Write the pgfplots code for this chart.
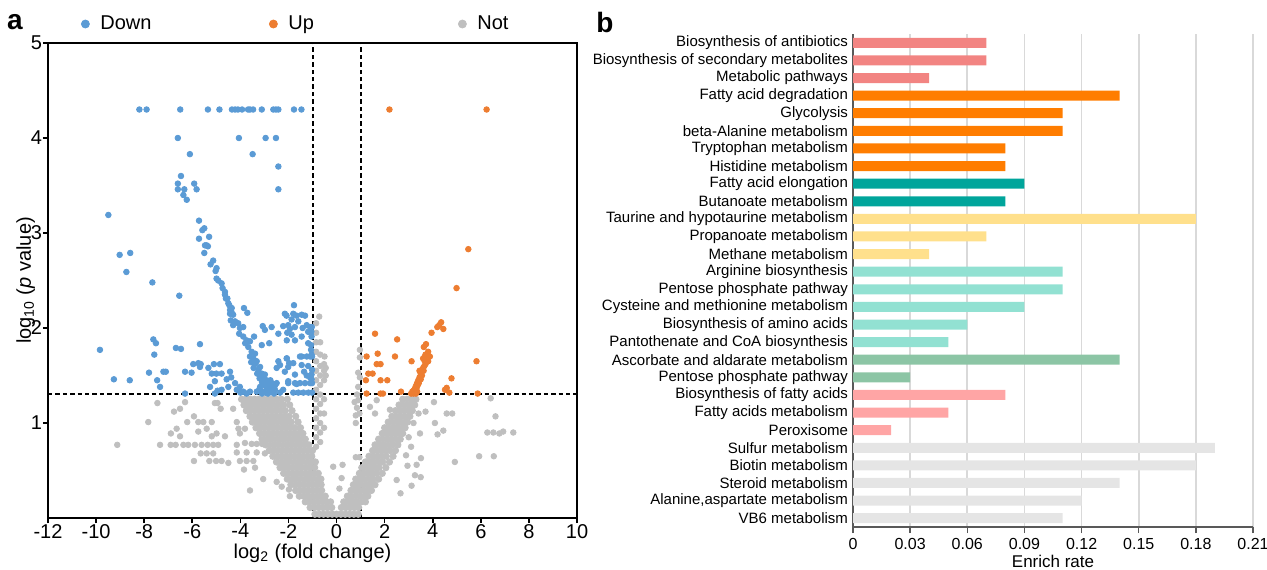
\documentclass[border=0pt]{standalone}
\usepackage{fontspec}
\setmainfont{Liberation Sans}
\usepackage{pgfplots}
\pgfplotsset{compat=1.18}

\definecolor{cdown}{HTML}{5B9BD5}
\definecolor{cup}{HTML}{ED7D31}
\definecolor{cnot}{HTML}{BFBFBF}
\definecolor{gA}{HTML}{F28482}
\definecolor{gB}{HTML}{FF7D00}
\definecolor{gC}{HTML}{00A59B}
\definecolor{gD}{HTML}{FFE08C}
\definecolor{gE}{HTML}{92E1D2}
\definecolor{gF}{HTML}{8CC5A5}
\definecolor{gG}{HTML}{FFA5A5}
\definecolor{gH}{HTML}{E5E5E5}
\definecolor{axgray}{HTML}{595959}

\begin{document}
\begin{tikzpicture}

% ---------- a: volcano plot ----------
\begin{axis}[
  at={(0,0)}, anchor=south west, scale only axis,
  width=264.5pt, height=237.5pt,
  xmin=-12, xmax=10, ymin=0, ymax=5,
  xtick={-12,-10,...,10}, ytick={1,2,3,4,5},
  tick pos=left, tick align=outside, major tick length=2.5pt,
  axis line style={line width=0.9pt},
  every tick/.style={line width=0.8pt, black},
  ticklabel style={font=\fontsize{10}{12}\selectfont},
  xticklabel style={yshift=3pt},
  yticklabel style={xshift=3pt},
  /pgf/number format/assume math mode=true,
  xlabel={log\textsubscript{2} (fold change)},
  ylabel={log\textsubscript{10} (\textit{p} value)},
  label style={font=\fontsize{10}{12}\selectfont},
  xlabel style={yshift=4pt},
  ylabel style={yshift=-9pt},
  legend columns=3,
  legend image code/.code={\draw[#1,mark size=2pt] plot coordinates {(0pt,0pt)};},
  legend style={at={(axis description cs:0.0624,1.04)}, anchor=west,
    draw=none, fill=none, inner sep=0pt,
    font=\fontsize{10}{12}\selectfont,
    /tikz/every odd column/.append style={column sep=3.5pt},
    /tikz/every even column/.append style={column sep=0pt}},
]
% grey (not significant): dense V band
\addplot[only marks, mark=*, mark size=1.6pt, color=cnot, forget plot] coordinates {
(-0.9,0.04)(-0.72,0.04)(-0.54,0.04)(-0.36,0.04)(-0.18,0.04)(0,0.04)(0.18,0.04)(0.36,0.04)(0.54,0.04)(0.72,0.04)(0.9,0.04)
(-1.1,0.11)(-0.92,0.11)(-0.74,0.11)(-0.56,0.11)(-0.38,0.11)(-0.2,0.11)(0.2,0.11)(0.38,0.11)(0.56,0.11)(0.74,0.11)(0.92,0.11)
(-1.3,0.17)(-1.12,0.17)(-0.94,0.17)(-0.76,0.17)(-0.58,0.17)(-0.4,0.17)(-0.25,0.17)(0.3,0.17)(0.48,0.17)(0.66,0.17)(0.84,0.17)(1.02,0.17)(1.2,0.17)
(-1.55,0.23)(-1.37,0.23)(-1.19,0.23)(-1.01,0.23)(-0.83,0.23)(-0.65,0.23)(-0.47,0.23)(0.45,0.23)(0.63,0.23)(0.81,0.23)(0.99,0.23)(1.17,0.23)(1.3,0.23)
(-1.7,0.29)(-1.52,0.29)(-1.34,0.29)(-1.16,0.29)(-0.98,0.29)(-0.8,0.29)(-0.62,0.29)(0.6,0.29)(0.78,0.29)(0.96,0.29)(1.14,0.29)(1.32,0.29)(1.45,0.29)
(-1.9,0.35)(-1.72,0.35)(-1.54,0.35)(-1.36,0.35)(-1.18,0.35)(-1.0,0.35)(-0.82,0.35)(-0.64,0.35)(0.7,0.35)(0.88,0.35)(1.06,0.35)(1.24,0.35)(1.42,0.35)(1.6,0.35)
(-2.05,0.41)(-1.87,0.41)(-1.69,0.41)(-1.51,0.41)(-1.33,0.41)(-1.15,0.41)(-0.97,0.41)(-0.79,0.41)(-0.65,0.41)(0.8,0.41)(0.98,0.41)(1.16,0.41)(1.34,0.41)(1.52,0.41)(1.75,0.41)
(-2.2,0.47)(-2.02,0.47)(-1.84,0.47)(-1.66,0.47)(-1.48,0.47)(-1.3,0.47)(-1.12,0.47)(-0.94,0.47)(-0.76,0.47)(0.95,0.47)(1.13,0.47)(1.31,0.47)(1.49,0.47)(1.67,0.47)(1.9,0.47)
(-2.35,0.53)(-2.17,0.53)(-1.99,0.53)(-1.81,0.53)(-1.63,0.53)(-1.45,0.53)(-1.27,0.53)(-1.09,0.53)(-0.91,0.53)(1.05,0.53)(1.23,0.53)(1.41,0.53)(1.59,0.53)(1.77,0.53)(2.05,0.53)
(-2.5,0.59)(-2.32,0.59)(-2.14,0.59)(-1.96,0.59)(-1.78,0.59)(-1.6,0.59)(-1.42,0.59)(-1.24,0.59)(-1.06,0.59)(-0.88,0.59)(1.2,0.59)(1.38,0.59)(1.56,0.59)(1.74,0.59)(1.92,0.59)(2.2,0.59)
(-2.65,0.65)(-2.47,0.65)(-2.29,0.65)(-2.11,0.65)(-1.93,0.65)(-1.75,0.65)(-1.57,0.65)(-1.39,0.65)(-1.21,0.65)(-1.03,0.65)(1.35,0.65)(1.53,0.65)(1.71,0.65)(1.89,0.65)(2.07,0.65)(2.35,0.65)
(-2.8,0.71)(-2.62,0.71)(-2.44,0.71)(-2.26,0.71)(-2.08,0.71)(-1.9,0.71)(-1.72,0.71)(-1.54,0.71)(-1.36,0.71)(-1.18,0.71)(-1.0,0.71)(1.5,0.71)(1.68,0.71)(1.86,0.71)(2.04,0.71)(2.22,0.71)(2.45,0.71)
(-2.95,0.77)(-2.77,0.77)(-2.59,0.77)(-2.41,0.77)(-2.23,0.77)(-2.05,0.77)(-1.87,0.77)(-1.69,0.77)(-1.51,0.77)(-1.33,0.77)(-1.15,0.77)(1.6,0.77)(1.78,0.77)(1.96,0.77)(2.14,0.77)(2.32,0.77)(2.55,0.77)
(-3.1,0.83)(-2.92,0.83)(-2.74,0.83)(-2.56,0.83)(-2.38,0.83)(-2.2,0.83)(-2.02,0.83)(-1.84,0.83)(-1.66,0.83)(-1.48,0.83)(-1.3,0.83)(1.75,0.83)(1.93,0.83)(2.11,0.83)(2.29,0.83)(2.47,0.83)(2.65,0.83)
(-3.2,0.89)(-3.02,0.89)(-2.84,0.89)(-2.66,0.89)(-2.48,0.89)(-2.3,0.89)(-2.12,0.89)(-1.94,0.89)(-1.76,0.89)(-1.58,0.89)(-1.4,0.89)(1.9,0.89)(2.08,0.89)(2.26,0.89)(2.44,0.89)(2.62,0.89)(2.75,0.89)
(-3.35,0.95)(-3.17,0.95)(-2.99,0.95)(-2.81,0.95)(-2.63,0.95)(-2.45,0.95)(-2.27,0.95)(-2.09,0.95)(-1.91,0.95)(-1.73,0.95)(-1.5,0.95)(2.0,0.95)(2.18,0.95)(2.36,0.95)(2.54,0.95)(2.72,0.95)(2.85,0.95)
(-3.5,1.01)(-3.32,1.01)(-3.14,1.01)(-2.96,1.01)(-2.78,1.01)(-2.6,1.01)(-2.42,1.01)(-2.24,1.01)(-2.06,1.01)(-1.88,1.01)(-1.6,1.01)(2.15,1.01)(2.33,1.01)(2.51,1.01)(2.69,1.01)(2.87,1.01)(2.95,1.01)
(-3.6,1.07)(-3.42,1.07)(-3.24,1.07)(-3.06,1.07)(-2.88,1.07)(-2.7,1.07)(-2.52,1.07)(-2.34,1.07)(-2.16,1.07)(-1.98,1.07)(-1.7,1.07)(2.3,1.07)(2.48,1.07)(2.66,1.07)(2.84,1.07)(3.05,1.07)
(-3.75,1.13)(-3.57,1.13)(-3.39,1.13)(-3.21,1.13)(-3.03,1.13)(-2.85,1.13)(-2.67,1.13)(-2.49,1.13)(-2.31,1.13)(-2.13,1.13)(-1.85,1.13)(2.45,1.13)(2.63,1.13)(2.81,1.13)(2.99,1.13)(3.15,1.13)
(-3.85,1.19)(-3.67,1.19)(-3.49,1.19)(-3.31,1.19)(-3.13,1.19)(-2.95,1.19)(-2.77,1.19)(-2.59,1.19)(-2.41,1.19)(-2.2,1.19)(-1.95,1.19)(2.6,1.19)(2.78,1.19)(2.96,1.19)(3.14,1.19)(3.25,1.19)
(-3.95,1.25)(-3.77,1.25)(-3.59,1.25)(-3.41,1.25)(-3.23,1.25)(-3.05,1.25)(-2.87,1.25)(-2.69,1.25)(-2.5,1.25)(-2.3,1.25)(-2.05,1.25)(2.75,1.25)(2.93,1.25)(3.11,1.25)(3.3,1.25)
};
% grey (not significant): scattered points
\addplot[only marks, mark=*, mark size=1.4pt, color=cnot, forget plot] coordinates {
(-9.12,0.77)(-7.83,1.01)(-7.45,1.21)(-7.34,0.77)(-6.9,0.77)(-6.69,0.77)(-6.37,0.77)(-6.17,0.77)(-5.89,0.77)(-5.61,0.77)(-5.36,0.77)(-5.13,0.77)(-4.92,0.77)(-4.15,0.77)
(-6.89,0.89)(-6.65,0.94)(-6.51,0.86)(-6.76,1.12)(-6.51,1.15)(-6.3,1.22)(-6.21,1.01)(-5.93,1.07)(-5.75,1.01)(-5.54,1.01)(-5.75,0.91)(-5.4,0.94)(-5.19,1.01)(-5.19,0.86)(-4.99,0.89)(-4.64,0.86)
(-5.65,0.68)(-5.4,0.68)(-5.13,0.68)(-5.93,0.60)(-5.29,0.60)(-5.01,0.60)(-4.78,0.60)(-4.5,0.58)(-4.15,0.69)(-4.02,0.60)(-3.74,0.60)(-3.46,0.60)(-3.85,0.51)(-3.39,0.53)
(-5.06,1.21)(-4.95,1.21)(-4.82,1.15)(-4.3,1.15)(-4.15,1.01)(-4.08,0.94)(-4.02,0.89)(-3.81,0.94)
(-3.6,0.29)(-3.05,0.41)(-2.49,0.38)(-2.28,0.33)(-1.94,0.23)(-1.98,0.30)
(-3.81,0.79)(-3.53,0.78)(-3.32,0.78)(-3.1,0.78)(-3.74,0.69)(-3.32,0.69)(-2.98,0.68)
(4.09,1.0)(4.58,1.10)(4.81,1.10)(6.61,1.07)(6.27,0.90)(6.52,0.90)(6.77,0.89)(6.93,0.91)(7.35,0.90)(5.93,0.65)(6.54,0.65)(4.92,0.59)
(4.2,0.88)(4.44,0.92)(3.51,0.63)(3.33,0.56)(3.26,0.45)(3.5,0.43)(3.12,0.34)(2.5,0.40)(2.66,0.26)(6.41,1.26)(4.05,1.22)(3.7,1.12)
(3.41,1.10)(3.47,0.89)(2.89,0.66)(2.22,1.14)(1.6,1.10)(1.67,1.24)(1.39,1.17)(-0.14,0.54)(0.25,0.56)(0.21,0.42)(0.12,0.31)
(3.1,0.75)(3.0,0.85)(3.2,1.0)(2.95,0.55)
(-0.85,0.75)(-0.85,0.85)(-0.85,0.95)(-0.85,1.05)(-0.85,1.15)(-0.85,1.25)(-0.85,1.35)(-0.85,1.45)(-0.85,1.55)(-0.85,1.65)(-0.85,1.75)(-0.85,1.85)(-0.85,1.95)(-0.85,2.05)
(-0.68,0.8)(-0.68,0.9)(-0.68,1.0)(-0.68,1.1)(-0.68,1.2)(-0.68,1.3)(-0.68,1.4)(-0.68,1.5)(-0.68,1.6)(-0.68,1.72)(-0.68,1.85)(-0.72,2.12)
(-0.52,0.95)(-0.52,1.1)(-0.52,1.25)(-0.52,1.45)(-0.52,1.55)(-0.52,1.62)(-0.45,1.5)(-0.45,1.58)(-0.5,1.7)
(0.8,1.0)(0.8,1.08)(0.85,1.16)(0.9,1.24)(0.95,1.1)(0.75,1.22)(0.9,1.53)(0.97,1.48)(0.97,1.69)(0.97,1.77)(0.85,1.3)(0.9,1.38)(0.95,0.64)(0.8,0.64)
};
% blue (down)
\addplot[only marks, mark=*, mark size=1.4pt, color=cdown] coordinates {
(-8.2,4.3)(-7.9,4.3)(-6.5,4.3)(-5.35,4.3)(-4.87,4.3)(-4.35,4.3)(-4.22,4.3)(-4.1,4.3)(-3.93,4.3)(-3.68,4.3)(-3.6,4.3)(-3.47,4.3)(-3.11,4.3)(-2.63,4.3)(-2.52,4.3)(-2.42,4.3)(-1.77,4.3)(-1.46,4.3)
(-6.6,4.0)(-4.06,4.0)(-2.95,4.0)(-2.52,4.0)(-6.1,3.83)(-3.49,3.83)(-2.42,3.7)(-2.42,3.46)
(-6.47,3.6)(-6.6,3.52)(-5.92,3.52)(-6.6,3.46)(-6.33,3.46)(-5.82,3.46)(-6.37,3.40)(-6.23,3.35)
(-9.49,3.19)(-9.02,2.77)(-8.58,2.79)(-8.74,2.59)(-7.66,2.48)(-6.54,2.34)
(-9.84,1.77)(-9.26,1.46)(-8.6,1.45)
(-7.62,1.88)(-7.51,1.84)(-7.58,1.72)(-7.8,1.53)(-7.46,1.45)(-7.34,1.38)(-7.2,1.54)(-7.1,1.54)
(-6.68,1.79)(-6.47,1.78)(-5.68,1.83)(-6.3,1.54)(-6.03,1.53)(-6.3,1.31)
(-5.96,1.62)(-5.75,1.63)(-5.65,1.62)(-5.68,1.59)(-5.33,1.58)(-5.1,1.62)(-4.85,1.62)(-5.19,1.52)(-5.0,1.52)(-4.78,1.52)
(-5.26,1.38)(-5.06,1.44)(-4.95,1.34)(-4.78,1.35)(-4.57,1.46)(-4.43,1.54)(-4.38,1.48)(-4.5,1.38)(-4.22,1.42)(-4.15,1.35)
(-4.02,1.38)(-3.88,1.33)(-3.6,1.33)(-4.0,1.32)(-5.06,1.31)(-3.74,1.31)(-3.32,1.33)
(-5.72,3.13)(-5.58,3.03)(-5.5,3.05)(-5.72,2.94)(-5.3,2.96)(-5.47,2.87)(-5.4,2.87)(-5.35,2.86)(-5.5,2.79)(-5.24,2.67)(-5.13,2.71)
(-4.99,2.63)(-5.03,2.6)(-4.99,2.52)(-4.92,2.5)(-4.78,2.47)(-4.74,2.42)(-4.64,2.38)(-4.6,2.31)(-4.5,2.26)(-4.43,2.19)(-4.37,2.17)
(-4.64,2.35)(-4.54,2.31)(-4.46,2.24)(-4.36,2.21)(-4.43,2.15)(-4.3,2.14)(-4.4,2.08)(-4.22,2.07)(-4.09,2.05)(-4.3,2.03)(-4.02,2.0)
(-3.88,2.01)(-4.05,1.94)(-3.88,1.91)(-3.74,1.87)(-3.6,1.86)(-3.8,1.84)(-3.67,1.80)(-3.53,1.75)(-3.39,1.73)(-3.6,1.70)(-3.46,1.68)
(-3.32,1.65)(-3.39,1.62)(-3.18,1.59)(-3.25,1.56)(-3.11,1.52)(-2.98,1.51)(-3.05,1.48)(-2.91,1.45)(-2.98,1.42)(-2.84,1.40)(-2.77,1.37)
(-2.91,1.35)(-2.7,1.33)(-2.56,1.35)(-3.05,1.33)(-3.18,1.38)(-3.1,1.43)(-3.2,1.47)(-3.3,1.52)(-3.45,1.58)(-3.55,1.64)(-3.15,1.33)
(-2.85,1.31)(-2.6,1.31)(-2.75,1.45)(-2.65,1.4)
(-3.85,2.21)(-3.71,2.16)(-3.43,1.91)(-3.11,1.82)(-3.07,2.02)(-2.98,1.98)(-2.7,2.01)(-2.42,1.94)(-2.8,1.84)(-2.49,1.58)(-2.35,1.61)
(-2.07,1.68)(-2.01,1.59)(-2.15,1.54)(-2.49,1.42)(-1.73,1.51)(-1.66,1.41)
(-1.77,2.24)(-2.15,2.15)(-2.08,2.13)(-1.8,2.15)(-1.66,2.13)(-1.45,2.14)(-1.31,2.13)(-1.87,2.09)(-1.59,2.07)(-2.22,2.02)(-2.01,2.03)
(-1.94,1.99)(-1.73,2.01)(-1.41,2.0)(-1.24,2.03)(-1.1,2.01)(-1.03,2.01)(-1.05,1.96)(-1.18,1.96)(-1.04,1.91)(-2.07,1.87)(-1.87,1.93)
(-2.05,1.95)(-1.73,1.87)(-1.45,1.91)(-1.18,1.84)(-1.06,1.82)(-1.06,1.77)(-1.04,1.72)(-1.52,1.70)(-1.45,1.70)(-1.24,1.70)(-1.1,1.70)
(-1.02,1.70)(-2.07,1.68)(-2.42,1.65)(-1.97,1.63)(-1.8,1.63)(-1.45,1.61)(-1.18,1.6)(-1.02,1.56)(-1.04,1.51)(-1.73,1.42)(-1.52,1.42)
(-1.31,1.42)(-1.1,1.42)(-1.02,1.42)(-1.8,1.32)(-1.59,1.32)(-1.38,1.32)(-1.17,1.32)(-1.02,1.32)(-2.22,1.35)(-2.01,1.44)(-1.35,1.54)
(-1.24,1.5)(-1.1,1.48)(-1.04,1.46)(-2.01,1.42)(-2.35,1.32)
(-3.2,1.36)(-3.0,1.4)(-2.9,1.38)(-2.7,1.42)(-2.55,1.4)(-3.1,1.31)(-2.95,1.32)(-2.8,1.34)(-2.65,1.36)
};
\addlegendentry{\makebox[82.5pt][l]{Down}}
% orange (up)
\addplot[only marks, mark=*, mark size=1.4pt, color=cup] coordinates {
(2.2,4.3)(6.24,4.3)(5.48,2.83)(4.99,2.42)(4.35,2.06)(4.19,2.01)(4.44,1.99)(4.27,2.03)(3.95,1.95)(3.72,1.83)(3.63,1.8)
(3.81,1.75)(3.88,1.70)(3.81,1.65)(3.12,1.65)(1.6,1.94)(2.52,1.88)(1.25,1.70)(1.71,1.73)(2.43,1.70)(1.67,1.62)(1.83,1.62)
(1.32,1.52)(1.5,1.52)(1.22,1.45)(1.83,1.45)(2.11,1.45)(1.25,1.31)(1.83,1.31)(1.93,1.31)(2.68,1.33)(4.78,1.47)(4.51,1.35)
(4.58,1.37)(4.69,1.32)(5.82,1.65)(5.87,1.31)
(3.74,1.65)(3.7,1.62)(3.65,1.6)(3.6,1.58)(3.62,1.55)(3.55,1.55)(3.5,1.52)(3.55,1.5)(3.45,1.48)(3.5,1.46)(3.4,1.45)
(3.42,1.42)(3.35,1.42)(3.38,1.4)(3.3,1.39)(3.33,1.37)(3.25,1.36)(3.3,1.35)(3.2,1.34)(3.25,1.33)(3.15,1.33)(3.35,1.33)
(3.2,1.31)(3.3,1.31)(3.1,1.31)(3.6,1.68)(3.68,1.7)(3.45,1.55)(3.7,1.72)(3.65,1.66)
};
\addlegendentry{\makebox[83pt][l]{Up}}
\addlegendimage{only marks, mark=*, color=cnot}
\addlegendentry{Not}
% thresholds
\addplot[black, dash pattern=on 2.2pt off 1.5pt, line width=1pt, forget plot] coordinates {(-1,0) (-1,5)};
\addplot[black, dash pattern=on 2.2pt off 1.5pt, line width=1pt, forget plot] coordinates {(1,0) (1,5)};
\addplot[black, dash pattern=on 2.2pt off 1.5pt, line width=1pt, forget plot] coordinates {(-12,1.301) (10,1.301)};
\end{axis}

% ---------- b: enrichment bars ----------
\begin{axis}[
  at={(402.5pt,-4.5pt)}, anchor=south west, scale only axis,
  width=200pt, height=246.5pt,
  xbar, bar width=5pt,
  xmin=0, xmax=0.21, ymin=0.5, ymax=28.5, y dir=reverse,
  axis x line*=bottom, axis y line*=left,
  axis line style={axgray, line width=0.8pt, -},
  xtick={0,0.03,0.06,0.09,0.12,0.15,0.18,0.21},
  xticklabels={0,0.03,0.06,0.09,0.12,0.15,0.18,0.21},
  ytick={1,...,28},
  yticklabels={Biosynthesis of antibiotics, Biosynthesis of secondary metabolites, Metabolic pathways,
    Fatty acid degradation, Glycolysis, beta-Alanine metabolism, Tryptophan metabolism, Histidine metabolism,
    Fatty acid elongation, Butanoate metabolism, Taurine and hypotaurine metabolism, Propanoate metabolism,
    Methane metabolism, Arginine biosynthesis, Pentose phosphate pathway, Cysteine and methionine metabolism,
    Biosynthesis of amino acids, Pantothenate and CoA biosynthesis, Ascorbate and aldarate metabolism,
    Pentose phosphate pathway, Biosynthesis of fatty acids, Fatty acids metabolism, Peroxisome,
    Sulfur metabolism, Biotin metabolism, Steroid metabolism, {Alanine,aspartate metabolism}, VB6 metabolism},
  minor ytick={0.5,1.5,...,28.5},
  ytick style={draw=none},
  minor tick style={axgray, line width=0.7pt},
  minor tick length=3pt,
  xtick style={axgray, line width=0.7pt},
  tick align=outside, major tick length=3pt,
  xmajorgrids, grid style={color=black!15, line width=0.9pt},
  yticklabel style={font=\fontsize{7.5}{9}\selectfont, xshift=4pt},
  xticklabel style={font=\fontsize{8}{10}\selectfont, yshift=1pt},
  /pgf/number format/assume math mode=true,
  xlabel={Enrich rate},
  xlabel style={font=\fontsize{8.5}{10}\selectfont, yshift=4pt},
]
\addplot[fill=gA, draw=none, bar shift=0pt] coordinates {(0.07,1) (0.07,2) (0.04,3)};
\addplot[fill=gB, draw=none, bar shift=0pt] coordinates {(0.14,4) (0.11,5) (0.11,6) (0.08,7) (0.08,8)};
\addplot[fill=gC, draw=none, bar shift=0pt] coordinates {(0.09,9) (0.08,10)};
\addplot[fill=gD, draw=none, bar shift=0pt] coordinates {(0.18,11) (0.07,12) (0.04,13)};
\addplot[fill=gE, draw=none, bar shift=0pt] coordinates {(0.11,14) (0.11,15) (0.09,16) (0.06,17) (0.05,18)};
\addplot[fill=gF, draw=none, bar shift=0pt] coordinates {(0.14,19) (0.03,20)};
\addplot[fill=gG, draw=none, bar shift=0pt] coordinates {(0.08,21) (0.05,22) (0.02,23)};
\addplot[fill=gH, draw=none, bar shift=0pt] coordinates {(0.19,24) (0.18,25) (0.14,26) (0.12,27) (0.11,28)};
\end{axis}

\node[font=\bfseries\fontsize{14}{16}\selectfont] at (-16.5pt,248pt) {a};
\node[font=\bfseries\fontsize{14}{16}\selectfont] at (278.5pt,248pt) {b};

\pgfresetboundingbox
\useasboundingbox (-24pt,-25.5pt) rectangle (609.5pt,259pt);
\end{tikzpicture}
\end{document}
